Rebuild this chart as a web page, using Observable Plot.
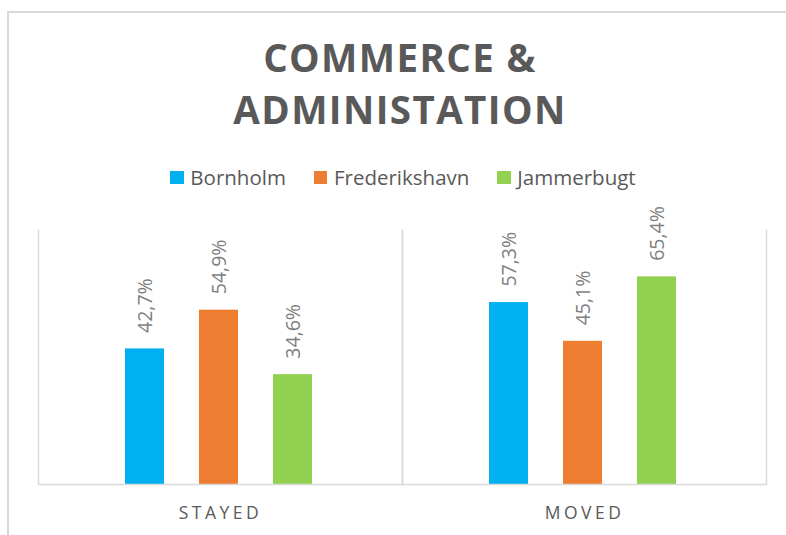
<!DOCTYPE html>
<html>
<head>
<meta charset="utf-8">
<script src="https://cdn.jsdelivr.net/npm/d3@7"></script>
<script src="https://cdn.jsdelivr.net/npm/@observablehq/plot@0.6"></script>
<style>
  html, body { margin: 0; padding: 0; background: #fff; }
  body { width: 786px; height: 535px; position: relative; overflow: hidden; font-family: "Open Sans", sans-serif; }
  #border { position: absolute; left: 7px; top: 11px; width: 900px; height: 700px; border-left: 2px solid #d9d9d9; border-top: 2px solid #d9d9d9; }
  #title { position: absolute; left: 0; top: 32px; width: 800px; text-align: center; font-weight: 700; font-size: 38.5px; line-height: 51.6px; color: #595959; letter-spacing: 1.4px; }
  #legend { position: absolute; left: 0; top: 166px; width: 806px; display: flex; justify-content: center; align-items: center; font-size: 20.5px; line-height: 22px; color: #595959; }
  .item { display: flex; align-items: center; margin: 0 14px; }
  .sw { width: 13.5px; height: 13.5px; margin-right: 6.5px; margin-top: 1px; }
  #chart { position: absolute; left: 0; top: 200px; }
  #chart g[aria-label="fx-axis tick label"] { letter-spacing: 3.5px; }
</style>
</head>
<body>
<div id="border"></div>
<div id="title">COMMERCE &amp;<br>ADMINISTATION</div>
<div id="legend"></div>
<div id="chart"></div>
<script>
const categories = ["STAYED", "MOVED"];
const series = ["Bornholm", "Frederikshavn", "Jammerbugt"];
const stayedValues = [42.7, 54.9, 34.6];
const movedValues = [57.3, 45.1, 65.4];
const colors = ["#00B0F0", "#ED7D31", "#92D050"];

const data = [];
series.forEach((s, i) => {
  data.push({cat: categories[0], series: s, value: stayedValues[i]});
  data.push({cat: categories[1], series: s, value: movedValues[i]});
});

const legend = document.getElementById("legend");
series.forEach((s, i) => {
  const it = document.createElement("div");
  it.className = "item";
  it.innerHTML = `<span class="sw" style="background:${colors[i]}"></span><span>${s}</span>`;
  legend.appendChild(it);
});

const fmt = v => v.toFixed(1).replace(".", ",") + "%";

const chart = Plot.plot({
  width: 786,
  height: 335,
  marginLeft: 37,
  marginRight: 20,
  marginTop: 30,
  marginBottom: 51,
  style: {fontFamily: "Open Sans, sans-serif", background: "transparent", overflow: "visible"},
  fx: {domain: categories, padding: 0, label: null},
  x: {domain: series, paddingInner: 0.475, paddingOuter: 1.1675, align: 0.489, axis: null},
  y: {domain: [0, 80], axis: null},
  color: {domain: series, range: colors},
  marks: [
    Plot.frame({anchor: "left", stroke: "#d9d9d9", strokeWidth: 1.5}),
    Plot.frame({anchor: "right", stroke: "#d9d9d9", strokeWidth: 1.5}),
    Plot.barY(data, {fx: "cat", x: "series", y: "value", fill: "series"}),
    Plot.ruleY([0], {stroke: "#d9d9d9", strokeWidth: 1.5}),
    Plot.text(data, {fx: "cat", x: "series", y: "value", text: d => fmt(d.value), rotate: -90, textAnchor: "start", dy: -16, dx: 1, fontSize: 19.5, fill: "#7f7f7f"}),
    Plot.axisFx({anchor: "bottom", tickSize: 0, tickPadding: 22, fontSize: 17.5, color: "#595959", label: null})
  ]
});
document.getElementById("chart").appendChild(chart);
</script>
</body>
</html>
